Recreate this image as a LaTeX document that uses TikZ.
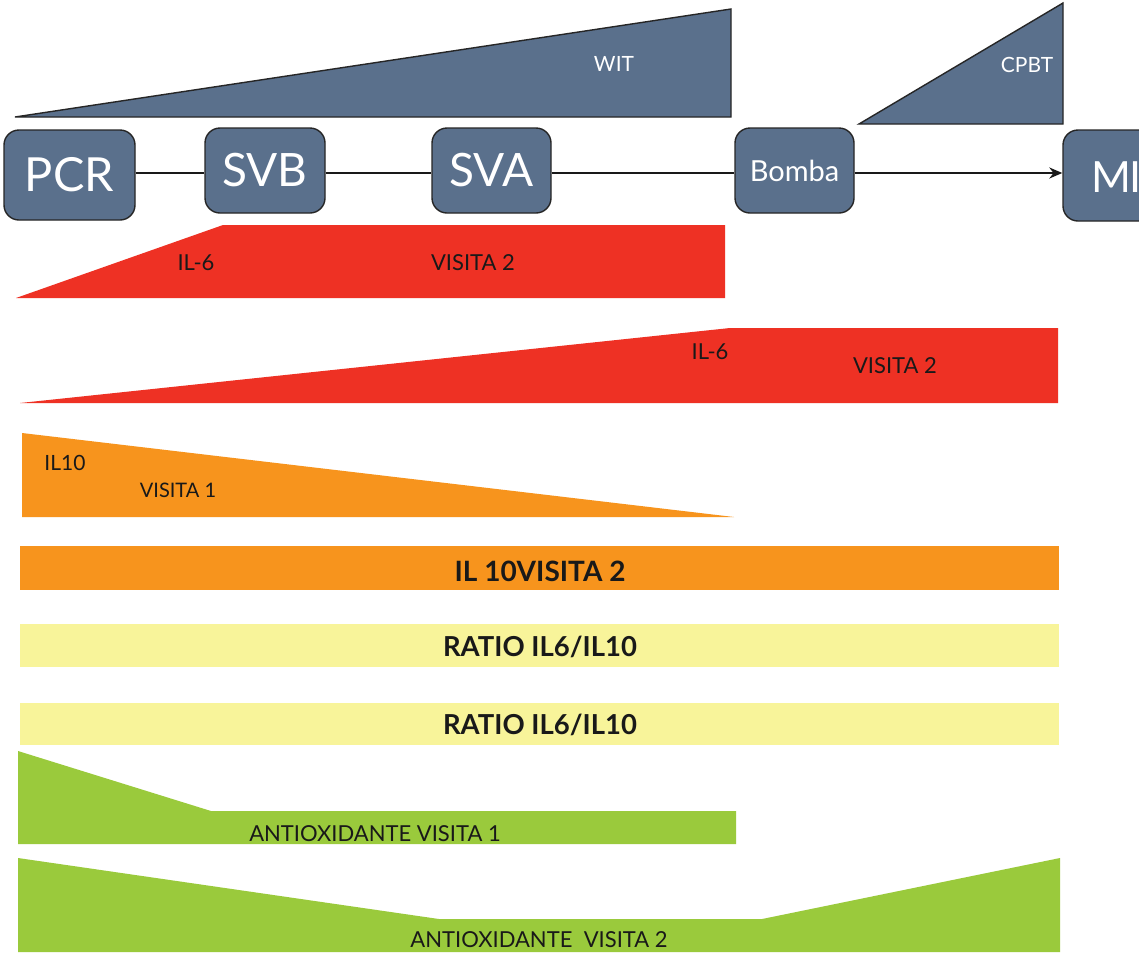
\documentclass[tikz,border=0pt]{standalone}
\usepackage{fontspec}
\setmainfont{Lato}
\usetikzlibrary{arrows.meta}
\definecolor{slate}{RGB}{90,112,140}
\definecolor{redband}{RGB}{238,49,36}
\definecolor{orangeband}{RGB}{247,148,29}
\definecolor{yellowband}{RGB}{248,244,154}
\definecolor{greenband}{RGB}{154,202,60}
\newcommand{\fsz}[1]{\fontsize{#1}{#1}\selectfont}
\tikzset{
  stagebox/.style={draw=black!85, line width=1.4pt, fill=slate, rounded corners=15pt, text=white, inner sep=0pt},
  wedge/.style={draw=black!85, line width=1.4pt, fill=slate},
  whitelbl/.style={text=white, inner sep=0pt},
  darklbl/.style={text=black!90, inner sep=0pt},
  boldlbl/.style={text=black!90, inner sep=0pt},
  timeline/.style={draw=black!90, line width=2pt},
}
\begin{document}
\begin{tikzpicture}[x=1pt,y=-1pt]
\useasboundingbox (0,0) rectangle (1139,954);
\clip (0,0) rectangle (1139,954);
\fill[white] (0,0) rectangle (1139,954);
% top wedges
\draw[wedge] (15,117) -- (731,9) -- (731,117) -- cycle;
\node[whitelbl, font=\fsz{21}] (wit) at (614,64) {WIT};
\draw[wedge] (859,124) -- (1063,3) -- (1063,124) -- cycle;
\node[whitelbl, font=\fsz{21}] (cpbt) at (1027,65) {CPBT};
% timeline
\coordinate (ly) at (0,173);
\node[stagebox, minimum width=131pt, minimum height=90pt, font=\fsz{47}] (pcr) at (69.5,175) {PCR};
\node[stagebox, minimum width=120pt, minimum height=85pt, font=\fsz{46}] (svb) at (265,170.5) {SVB};
\node[stagebox, minimum width=119pt, minimum height=85pt, font=\fsz{46}] (sva) at (491.5,170.5) {SVA};
\node[stagebox, minimum width=119pt, minimum height=85pt, font=\fsz{29}] (bomba) at (794.5,170.5) {Bomba};
\node[stagebox, minimum width=130pt, minimum height=91pt] (mibox) at (1128,175.5) {};
\node[whitelbl, font=\fsz{43}, anchor=west] (mi) at (1091,177) {M\kern-2pt I};
\draw[timeline] (pcr.east |- ly) -- (svb.west |- ly);
\draw[timeline] (svb.east |- ly) -- (sva.west |- ly);
\draw[timeline] (sva.east |- ly) -- (bomba.west |- ly);
\draw[timeline, -{Stealth[length=13pt,width=11pt]}] (bomba.east |- ly) -- (mibox.west |- ly);
% red bands
\fill[redband] (16,298) -- (223,225) -- (725,225) -- (725,298) -- cycle;
\node[darklbl, font=\fsz{22}] (il6a) at (196,263) {IL-6};
\node[darklbl, font=\fsz{22}] (v2a) at (473,263) {VISITA 2};
\fill[redband] (20,403) -- (730,328) -- (1058,328) -- (1058,403) -- cycle;
\node[darklbl, font=\fsz{22}] (il6b) at (710,352) {IL-6};
\node[darklbl, font=\fsz{22}] (v2b) at (895,366) {VISITA 2};
% orange
\fill[orangeband] (22,433) -- (734,517) -- (22,517) -- cycle;
\node[darklbl, font=\fsz{21}] (il10) at (65,463) {IL10};
\node[darklbl, font=\fsz{20}] (v1) at (178,490) {VISITA 1};
\fill[orangeband] (20,546) rectangle (1059,590);
\node[boldlbl, font=\fsz{28}\bfseries] (il10v2) at (540,571) {IL 10VISITA 2};
% yellow
\fill[yellowband] (20,624) rectangle (1059,667);
\node[boldlbl, font=\fsz{27.5}\bfseries] (ratio1) at (540,647) {RATIO IL6/IL10};
\fill[yellowband] (20,703) rectangle (1059,745);
\node[boldlbl, font=\fsz{27.5}\bfseries] (ratio2) at (540,725) {RATIO IL6/IL10};
% green
\fill[greenband] (18,751) -- (211,811) -- (736,811) -- (736,844) -- (18,844) -- cycle;
\node[darklbl, font=\fsz{22}] (ant1) at (375,834) {ANTIOXIDANTE VISITA 1};
\fill[greenband] (18,858) -- (439,919) -- (762,919) -- (1060,858) -- (1060,952) -- (18,952) -- cycle;
\node[darklbl, font=\fsz{22}] (ant2) at (539,940) {ANTIOXIDANTE\ \ VISITA 2};
\end{tikzpicture}
\end{document}
